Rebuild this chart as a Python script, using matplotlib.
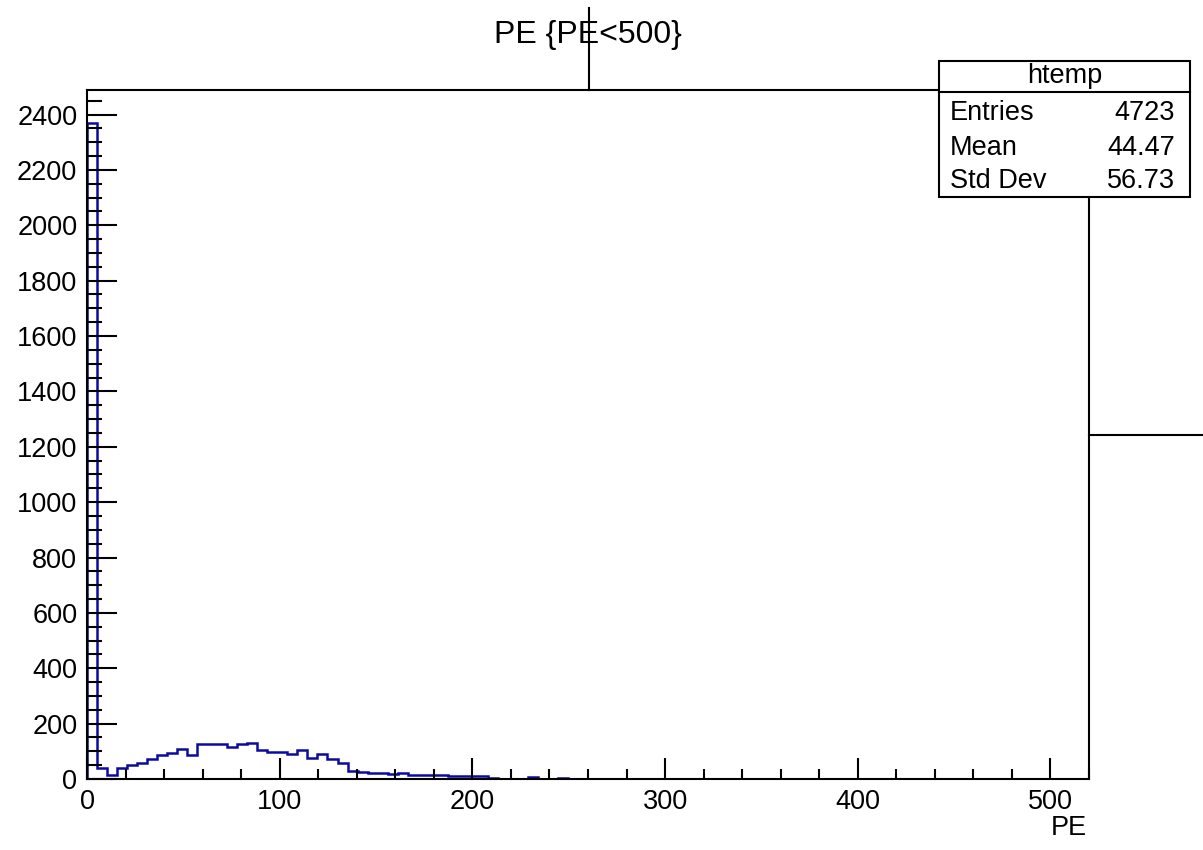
import matplotlib
matplotlib.use("Agg")
import matplotlib.pyplot as plt
import numpy as np
from matplotlib.patches import Rectangle
from matplotlib.ticker import MultipleLocator

plt.rcParams["font.family"] = ["Liberation Sans", "DejaVu Sans"]

# histogram "htemp": 100 bins from 0 to 520
x_min, x_max, n_bins = 0, 520, 100
counts = [
    2370, 40, 13, 38, 49, 58, 73, 85, 95, 107,
    85, 125, 125, 125, 116, 125, 131, 104, 97, 97,
    91, 104, 77, 91, 73, 58, 30, 26, 22, 20,
    18, 20, 15, 14, 13, 13, 12, 12, 12, 12,
    2, 0, 0, 0, 6, 0, 0, 5, 0, 0,
    0, 0, 0, 1, 1, 1, 0, 1, 0, 0,
    1, 1, 1, 1, 1, 1, 1, 1, 0, 1,
    0, 0, 1, 0, 0, 1, 1, 0, 1, 1,
    0, 1, 1, 0, 1, 0, 1, 1, 0, 1,
    1, 0, 1, 1, 1, 1, 1, 1, 1, 1,
]
title = "PE {PE<500}"
x_label = "PE"
stats_name = "htemp"
stats_rows = [("Entries", "4723"), ("Mean", "44.47"), ("Std Dev", "56.73")]

W, H = 1203, 850
fig = plt.figure(figsize=(W / 100, H / 100), dpi=100)

# frame in pixels: left 87, right 1089, top 90, bottom 779
ax = fig.add_axes([87 / W, 1 - 779 / H, (1089 - 87) / W, (779 - 90) / H])
edges = np.linspace(x_min, x_max, n_bins + 1)
ax.stairs(counts, edges, baseline=0, color="#0a0aa0", linewidth=1.8, zorder=1)
ax.set_xlim(x_min, x_max)
ax.set_ylim(0, max(counts) * 1.05)

ax.xaxis.set_major_locator(MultipleLocator(100))
ax.xaxis.set_minor_locator(MultipleLocator(20))
ax.yaxis.set_major_locator(MultipleLocator(200))
ax.yaxis.set_minor_locator(MultipleLocator(50))
ax.tick_params(axis="both", which="both", direction="in", width=1.5,
               labelsize=19.5, pad=7, right=False, top=False)
ax.tick_params(axis="x", which="major", length=15)
ax.tick_params(axis="x", which="minor", length=7.5)
ax.tick_params(axis="y", which="major", length=21.5)
ax.tick_params(axis="y", which="minor", length=11)
for side in ax.spines.values():
    side.set_linewidth(1.5)
    side.set_zorder(3)

fig.text(588 / W, 1 - 35 / H, title, ha="center", va="center", fontsize=23)
fig.text(1087 / W, 1 - 828 / H, x_label, ha="right", va="center", fontsize=19.5)

# overlay in pixel coordinates for the stats box and the stray pad lines
ov = fig.add_axes([0, 0, 1, 1], facecolor="none")
ov.set_xlim(0, W)
ov.set_ylim(H, 0)
ov.axis("off")
ov.plot([589, 589], [8, 90], color="black", linewidth=1.5)
ov.plot([1089, W], [435, 435], color="black", linewidth=1.5)

box_l, box_r, box_t, box_b, box_sep = 939, 1190, 61, 197, 92
ov.add_patch(Rectangle((box_l, box_t), box_r - box_l, box_b - box_t,
                       facecolor="white", edgecolor="black", linewidth=1.5))
ov.plot([box_l, box_r], [box_sep, box_sep], color="black", linewidth=1.5)
ov.text((box_l + box_r) / 2, 76, stats_name, ha="center", va="center", fontsize=19.5)
for (name, value), y in zip(stats_rows, [113, 148, 181]):
    ov.text(950, y, name, ha="left", va="center", fontsize=19.5)
    ov.text(1175, y, value, ha="right", va="center", fontsize=19.5)

fig.savefig("out.png", dpi=100)
